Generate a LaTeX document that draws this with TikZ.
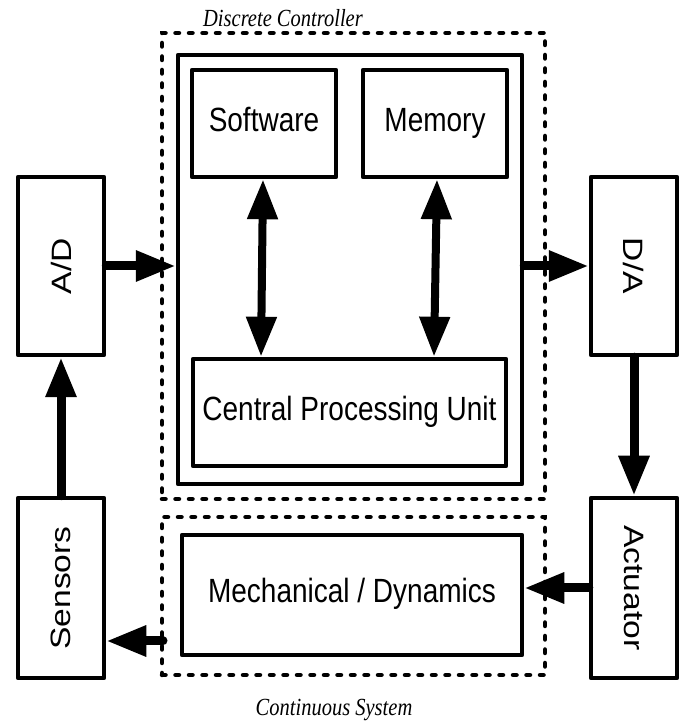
\documentclass[tikz,border=0pt]{standalone}
\usepackage{fontspec}
\setmainfont{Liberation Serif}
\setsansfont{Liberation Sans}
\usepackage{graphicx}
\usetikzlibrary{arrows.meta}

\newcommand{\boxtext}[1]{\scalebox{1}[1.2]{\strut #1}}
\newcommand{\sidetext}[2]{\rotatebox{#1}{\scalebox{1.2}[1]{#2}}}

\begin{document}
\begin{tikzpicture}[x=1pt,y=1pt,>={Triangle[length=40pt,width=29pt]},
  block/.style={draw,line width=4.5pt,line join=round,inner sep=0pt,
    font=\sffamily\fontsize{28}{32}\selectfont},
  group/.style={draw,line width=4.5pt,line cap=round,
    dash pattern=on 3.5pt off 10pt,inner sep=0pt},
  flow/.style={->,line width=9pt,line cap=round},
  caption/.style={font=\itshape\fontsize{20.5}{24}\selectfont}]
  \useasboundingbox (0,0) rectangle (684,724);

  % outer blocks
  \node[block,minimum width=86,minimum height=178] (ad) at (61,458) {\sidetext{90}{A/D}};
  \node[block,minimum width=86,minimum height=180] (sensors) at (61,136) {\sidetext{90}{Sensors}};
  \node[block,minimum width=86,minimum height=178] (da) at (634,458) {\sidetext{-90}{D/A}};
  \node[block,minimum width=86,minimum height=180] (actuator) at (634,136) {\sidetext{-90}{Actuator}};

  % discrete controller
  \node[group,minimum width=383,minimum height=466] (discrete) at (353.5,458) {};
  \node[block,minimum width=344,minimum height=429] (frame) at (350,454.5) {};
  \node[block,minimum width=144,minimum height=107] (software) at (264,600.5) {\boxtext{Software}};
  \node[block,minimum width=144,minimum height=107] (memory) at (435,600.5) {\boxtext{Memory}};
  \node[block,minimum width=313,minimum height=107] (cpu) at (349.5,311.5) {\boxtext{Central Processing Unit}};
  \node[caption] (dclabel) at (283,706) {\scalebox{1}[1.2]{Discrete Controller}};

  % continuous system
  \node[group,minimum width=383,minimum height=158] (continuous) at (353.5,128) {};
  \node[block,minimum width=340,minimum height=120] (mech) at (352,129) {\boxtext{Mechanical / Dynamics}};
  \node[caption] (cslabel) at (334,14) {\scalebox{1}[1.2]{Continuous System}};

  % signal flow
  \draw[flow] (ad.east) -- (ad.east -| frame.west);
  \draw[flow] (frame.east |- da.west) -- (da.west);
  \draw[flow] (da.south) -- (actuator.north);
  \draw[flow] (actuator.west) -- (actuator.west -| mech.east);
  \coordinate (feed) at (163,83);
  \draw[flow] (feed) -- (feed -| sensors.east);
  \draw[flow] (sensors.north) -- (ad.south);

  \draw[<->,line width=8pt] ([xshift=-1pt]software.south) -- ([xshift=-3pt]software.south |- cpu.north);
  \draw[<->,line width=8pt] ([xshift=2pt]memory.south) -- ([xshift=-1pt]memory.south |- cpu.north);
\end{tikzpicture}
\end{document}
